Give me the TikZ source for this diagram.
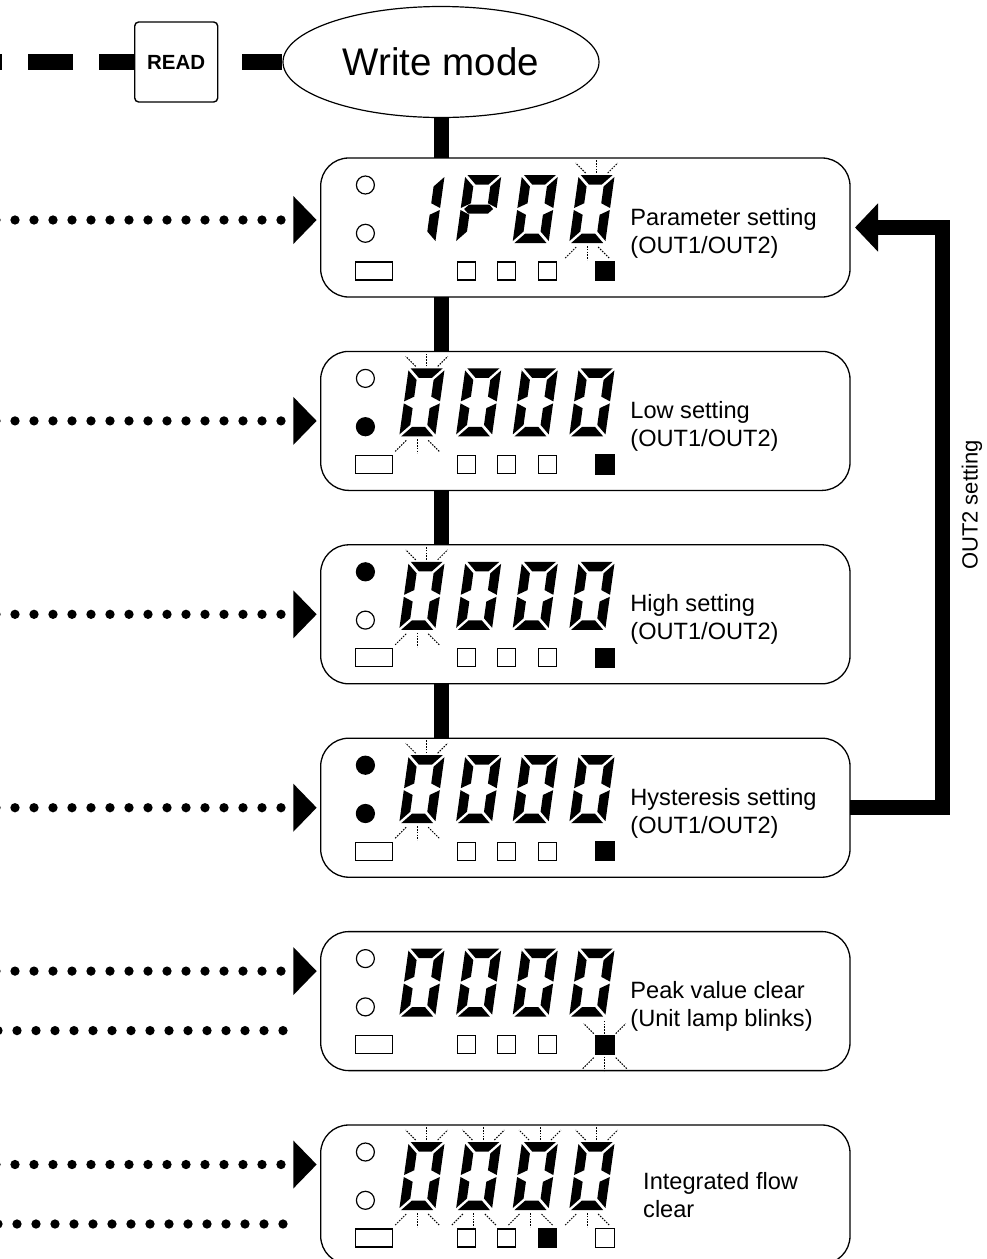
\documentclass[tikz,border=0pt]{standalone}
\usepackage{fontspec}
\setmainfont{Liberation Sans}
\usetikzlibrary{arrows.meta,positioning,shapes.geometric,calc}

\newcommand{\segA}{\fill (2,0) -- (34,0) -- (24.5,9.5) -- (11.5,9.5) -- cycle;}
\newcommand{\segB}{\fill (36,2) -- (36,33) -- (26.5,28.25) -- (26.5,11.5) -- cycle;}
\newcommand{\segC}{\fill (36,35) -- (36,66) -- (26.5,56.5) -- (26.5,39.75) -- cycle;}
\newcommand{\segD}{\fill (2,68) -- (34,68) -- (24.5,58.5) -- (11.5,58.5) -- cycle;}
\newcommand{\segE}{\fill (0,35) -- (9.5,39.75) -- (9.5,56.5) -- (0,66) -- cycle;}
\newcommand{\segF}{\fill (0,2) -- (9.5,11.5) -- (9.5,28.25) -- (0,33) -- cycle;}
\newcommand{\segG}{\fill (3.5,34) -- (8,29.5) -- (28,29.5) -- (32.5,34) -- (28,38.5) -- (8,38.5) -- cycle;}

\newcommand{\lcddigit}[3]{%
  \begin{scope}[shift={(#1,#2)}, xslant=0.14]
    \foreach \s in {#3}{\csname seg\s\endcsname}
  \end{scope}}

\newcommand{\blinktop}[2]{%
  \draw[blinkmark] (#1,#2-2) -- (#1,#2-15);
  \draw[blinkmark] (#1-11,#2-2) -- (#1-21,#2-12);
  \draw[blinkmark] (#1+11,#2-2) -- (#1+21,#2-12);}
\newcommand{\blinkbot}[2]{%
  \draw[blinkmark] (#1,#2+3) -- (#1,#2+17);
  \draw[blinkmark] (#1-11,#2+4) -- (#1-22,#2+15);
  \draw[blinkmark] (#1+11,#2+4) -- (#1+22,#2+15);}

\newcommand{\lcdframe}[2]{%
  \draw[lcdline, fill=#1] (44.7,27) circle[radius=9pt];
  \draw[lcdline, fill=#2] (44.7,75.3) circle[radius=9pt];
  \draw[lcdline] (35,104) rectangle (71.5,122);}
\newcommand{\unitlamps}[4]{%
  \draw[lcdline, fill=#1] (136.5,104) rectangle ++(18,18);
  \draw[lcdline, fill=#2] (177,104) rectangle ++(18,18);
  \draw[lcdline, fill=#3] (217.5,104) rectangle ++(18,18);
  \draw[lcdline, fill=#4] (274.5,103.5) rectangle ++(19,19);}
\newcommand{\zeros}{%
  \lcddigit{88}{17}{A,B,C,D,E,F}
  \lcddigit{144.7}{17}{A,B,C,D,E,F}
  \lcddigit{201.3}{17}{A,B,C,D,E,F}
  \lcddigit{258}{17}{A,B,C,D,E,F}}

\begin{document}
\begin{tikzpicture}[x=1pt, y=-1pt,
  lcdpanel/.style={draw, line width=1.3pt, rounded corners=28pt, minimum width=529.3pt, minimum height=139pt, inner sep=0pt, outer sep=0pt},
  lcdline/.style={line width=1.2pt},
  lcdtext/.style={anchor=west, align=left, inner sep=0pt, font=\fontsize{23.6}{28}\selectfont},
  blinkmark/.style={line width=1pt, dash pattern=on 1.6pt off 1.2pt},
  bus/.style={line width=15pt},
  dashbus/.style={line width=16.7pt, dash pattern=on 45pt off 26.3pt, dash phase=4.6pt},
  inarrow/.style={line width=9.3pt, line cap=round, dash pattern=on 0pt off 19pt, -{Triangle[length=23.4pt, width=46.6pt]}, shorten >=4pt},
  outdots/.style={line width=9.3pt, line cap=round, dash pattern=on 0pt off 19pt, shorten >=30pt},
  backarrow/.style={line width=15pt, line join=miter, -{Triangle[length=23pt, width=47pt]}, shorten >=5pt}]
  \clip (0,0) rectangle (986,1259);

  \node[ellipse, draw, line width=1.2pt, minimum width=316pt, minimum height=111pt, inner sep=0pt, font=\fontsize{38.5}{44}\selectfont] (wm) at (441,62) {Write mode};

  \node[lcdpanel] (p1) at (585.35,227.5) {};
  \node[lcdpanel, below=54.4pt of p1] (p2) {};
  \node[lcdpanel, below=54.4pt of p2] (p3) {};
  \node[lcdpanel, below=54.4pt of p3] (p4) {};
  \node[lcdpanel, below=54.4pt of p4] (p5) {};
  \node[lcdpanel, below=54.4pt of p5] (p6) {};

  \coordinate (lend) at (-2,62);
  \draw[dashbus] (wm.west) -- (lend);
  \node[draw, fill=white, line width=1.4pt, rounded corners=4pt, minimum width=83pt, minimum height=80pt, inner sep=0pt, font=\bfseries\fontsize{20.5}{24}\selectfont, left=64pt of wm] (read) {READ};

  \draw[bus] (wm.south) -- (wm.south |- p1.north);
  \draw[bus] (p1.south -| wm.south) -- (p2.north -| wm.south);
  \draw[bus] (p2.south -| wm.south) -- (p3.north -| wm.south);
  \draw[bus] (p3.south -| wm.south) -- (p4.north -| wm.south);

  \draw[backarrow] (p4.east) -- ++(92.5,0) |- (p1.east);
  \node[rotate=90, font=\fontsize{22}{27}\selectfont] (out2) at (972,505) {OUT2 setting};

  \coordinate (in1) at (-4,220);
  \coordinate (in2) at (-4,420.9);
  \coordinate (in3) at (-4,614.3);
  \coordinate (in4) at (-4,807.7);
  \coordinate (in5) at (-4,971.1);
  \coordinate (in6) at (-4,1164.5);
  \coordinate (out5) at (-2,1030.6);
  \coordinate (out6) at (-2,1224);
  \foreach \i in {1,...,6} \draw[inarrow] (in\i) -- (in\i -| p\i.west);
  \draw[outdots] (out5) -- (out5 -| p5.west);
  \draw[outdots] (out6) -- (out6 -| p6.west);

  \begin{scope}[shift={(p1.north west)}]
    \lcdframe{white}{white}
    \unitlamps{white}{white}{white}{black}
    \lcddigit{88}{17}{B,C}
    \lcddigit{144.7}{17}{A,B,E,F,G}
    \lcddigit{201.3}{17}{A,B,C,D,E,F}
    \lcddigit{258}{17}{A,B,C,D,E,F}
    \blinktop{276}{17} \blinkbot{266.5}{85}
    \node[lcdtext] (t1) at (309.5,75) {Parameter setting\\(OUT1/OUT2)};
  \end{scope}

  \begin{scope}[shift={(p2.north west)}]
    \lcdframe{white}{black}
    \unitlamps{white}{white}{white}{black}
    \zeros
    \blinktop{106}{17} \blinkbot{96.5}{85}
    \node[lcdtext] (t2) at (309.5,75) {Low setting\\(OUT1/OUT2)};
  \end{scope}

  \begin{scope}[shift={(p3.north west)}]
    \lcdframe{black}{white}
    \unitlamps{white}{white}{white}{black}
    \zeros
    \blinktop{106}{17} \blinkbot{96.5}{85}
    \node[lcdtext] (t3) at (309.5,75) {High setting\\(OUT1/OUT2)};
  \end{scope}

  \begin{scope}[shift={(p4.north west)}]
    \lcdframe{black}{black}
    \unitlamps{white}{white}{white}{black}
    \zeros
    \blinktop{106}{17} \blinkbot{96.5}{85}
    \node[lcdtext] (t4) at (309.5,75) {Hysteresis setting\\(OUT1/OUT2)};
  \end{scope}

  \begin{scope}[shift={(p5.north west)}]
    \lcdframe{white}{white}
    \unitlamps{white}{white}{white}{black}
    \zeros
    \blinktop{284}{104} \blinkbot{284}{122}
    \node[lcdtext] (t5) at (309.5,75) {Peak value clear\\(Unit lamp blinks)};
  \end{scope}

  \begin{scope}[shift={(p6.north west)}]
    \lcdframe{white}{white}
    \unitlamps{white}{white}{black}{white}
    \zeros
    \blinktop{106}{17} \blinkbot{96.5}{85}
    \blinktop{162.7}{17} \blinkbot{153.2}{85}
    \blinktop{219.3}{17} \blinkbot{209.8}{85}
    \blinktop{276}{17} \blinkbot{266.5}{85}
    \node[lcdtext] (t6) at (322.3,70.4) {Integrated flow\\clear};
  \end{scope}
\end{tikzpicture}
\end{document}
